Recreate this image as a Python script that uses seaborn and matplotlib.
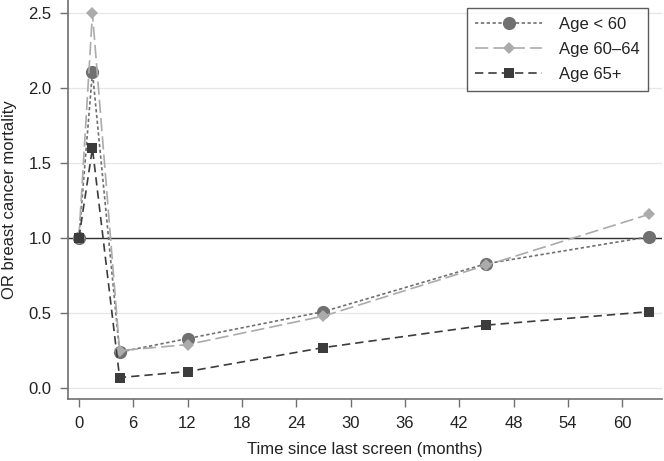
import numpy as np
import pandas as pd
import matplotlib
matplotlib.use("Agg")
import matplotlib.pyplot as plt
import seaborn as sns

# months since last screen
months = [0, 1.5, 4.5, 12, 27, 45, 63]
groups = ["Age < 60", "Age 60\u201364", "Age 65+"]
or_lt60 = [1.0, 2.11, 0.24, 0.33, 0.51, 0.83, 1.01]
or_6064 = [1.0, 2.50, 0.25, 0.29, 0.48, 0.82, 1.16]
or_65 = [1.0, 1.60, 0.07, 0.11, 0.27, 0.42, 0.51]
x_ticks = list(range(0, 61, 6))
y_ticks = [0.0, 0.5, 1.0, 1.5, 2.0, 2.5]

df = pd.DataFrame({
    "months": months * 3,
    "OR": or_lt60 + or_6064 + or_65,
    "group": np.repeat(groups, len(months)),
})

sns.set_style("white")
plt.rcParams["font.family"] = ["Liberation Sans", "DejaVu Sans"]

fig = plt.figure(figsize=(6.64, 4.61), dpi=100)
ax = fig.add_axes([0.1024, 0.1345, 0.8946, 0.8655])

for y in y_ticks:
    ax.axhline(y, color="#e6e6e6", lw=0.9, zorder=0)
ax.axhline(1.0, color="#333333", lw=1.0, zorder=1)

palette = {groups[0]: "#707070", groups[1]: "#ababab", groups[2]: "#3c3c3c"}
dashes = {groups[0]: (2, 1.5), groups[1]: (8, 3), groups[2]: (5, 3)}
markers = {groups[0]: "o", groups[1]: "D", groups[2]: "s"}
sizes = {groups[0]: 9.5, groups[1]: 6.5, groups[2]: 6.5}

for g in groups:
    sub = df[df["group"] == g]
    sns.lineplot(data=sub, x="months", y="OR", ax=ax, color=palette[g],
                 marker=markers[g], markersize=sizes[g], markeredgewidth=0,
                 dashes=False, lw=1.2, label=g, zorder=3)
    ax.lines[-1].set_dashes(dashes[g])

ax.set_xlim(-1.2, 64.4)
ax.set_ylim(-0.073, 2.59)
ax.set_xticks(x_ticks)
ax.set_yticks(y_ticks)
ax.set_yticklabels([f"{v:.1f}" for v in y_ticks])
ax.set_xlabel("Time since last screen (months)", fontsize=12, labelpad=8, color="#222222")
ax.set_ylabel("OR breast cancer mortality", fontsize=12, labelpad=8, color="#222222")
ax.tick_params(axis="both", labelsize=12, length=6, width=1, color="#707070",
               labelcolor="#222222", direction="out", left=True, bottom=True, pad=6)
for side in ["top", "right"]:
    ax.spines[side].set_visible(False)
for side in ["left", "bottom"]:
    ax.spines[side].set_color("#707070")
    ax.spines[side].set_linewidth(1.2)

leg = ax.legend(loc="upper right", bbox_to_anchor=(0.99, 1.0), fontsize=12,
                frameon=True, fancybox=False, edgecolor="#333333",
                handlelength=4.0, borderpad=0.5, labelspacing=0.62, handletextpad=1.0)
leg.get_frame().set_linewidth(1.0)
for t in leg.get_texts():
    t.set_color("#222222")

fig.savefig("out.png", dpi=100)
